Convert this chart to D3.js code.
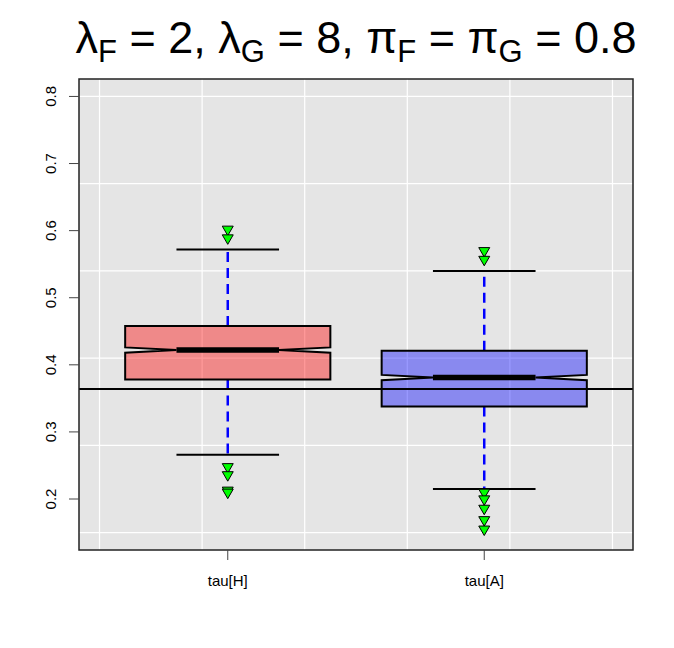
<!DOCTYPE html>
<html>
<head>
<meta charset="utf-8">
<script src="https://cdn.jsdelivr.net/npm/d3@7"></script>
<style>
  body { margin: 0; background: #fff; }
  text { font-family: "Liberation Sans", Arial, sans-serif; }
</style>
</head>
<body>
<div id="graph"></div>
<script>
var categories = ["tau[H]", "tau[A]"];
var positions = [1, 2];
var whiskerLow = [0.266, 0.215];
var q1 = [0.378, 0.338];
var median = [0.422, 0.381];
var q3 = [0.458, 0.421];
var whiskerHigh = [0.572, 0.540];
var notchLow = [0.418, 0.377];
var notchHigh = [0.426, 0.385];
var outliers = [
    [0.602, 0.589, 0.248, 0.236, 0.213, 0.210],
    [0.570, 0.557, 0.210, 0.200, 0.186, 0.169, 0.155]
];
var refLine = 0.364;
var yTicks = [0.2, 0.3, 0.4, 0.5, 0.6, 0.7, 0.8];
var yTickLabels = ["0.2", "0.3", "0.4", "0.5", "0.6", "0.7", "0.8"];
var gridX = [0.5, 0.9, 1.3, 1.7, 2.1, 2.5];
var gridY = [0.15, 0.28, 0.41, 0.54, 0.67, 0.80];
var fills = ["rgba(255,0,0,0.4)", "rgba(0,0,255,0.4)"];

function make_boxplot() {
    var w = 674, h = 648;
    var pl = 79, pr = 633, pt = 79, pb = 550;

    var x = d3.scaleLinear().domain([0.42, 2.58]).range([pl, pr]);
    var y = d3.scaleLinear().domain([0.124, 0.826]).range([pb, pt]);

    var svg = d3.select("#graph")
        .append("svg")
            .attr("width", w)
            .attr("height", h);

    svg.append("rect")
        .attr("width", w).attr("height", h).attr("fill", "#fff");

    svg.append("rect")
        .attr("x", pl).attr("y", pt)
        .attr("width", pr - pl).attr("height", pb - pt)
        .attr("fill", "#e5e5e5");

    // grid
    svg.selectAll("line.gx").data(gridX).enter().append("line")
        .attr("class", "gx")
        .attr("x1", function(d) { return x(d) }).attr("x2", function(d) { return x(d) })
        .attr("y1", pt).attr("y2", pb)
        .attr("stroke", "#fff").attr("stroke-width", 1.2);
    svg.selectAll("line.gy").data(gridY).enter().append("line")
        .attr("class", "gy")
        .attr("y1", function(d) { return y(d) }).attr("y2", function(d) { return y(d) })
        .attr("x1", pl).attr("x2", pr)
        .attr("stroke", "#fff").attr("stroke-width", 1.2);

    var boxW = 0.4, notchW = 0.2, capW = 0.2;
    var idx = d3.range(categories.length);

    var boxes = svg.selectAll("g.box").data(idx).enter().append("g").attr("class", "box");

    // whiskers
    boxes.append("line")
        .attr("x1", function(i) { return x(positions[i]) }).attr("x2", function(i) { return x(positions[i]) })
        .attr("y1", function(i) { return y(q3[i]) }).attr("y2", function(i) { return y(whiskerHigh[i]) })
        .attr("stroke", "#0000ff").attr("stroke-width", 2.5).attr("stroke-dasharray", "10,6");
    boxes.append("line")
        .attr("x1", function(i) { return x(positions[i]) }).attr("x2", function(i) { return x(positions[i]) })
        .attr("y1", function(i) { return y(q1[i]) }).attr("y2", function(i) { return y(whiskerLow[i]) })
        .attr("stroke", "#0000ff").attr("stroke-width", 2.5).attr("stroke-dasharray", "10,6");

    // staples
    [whiskerHigh, whiskerLow].forEach(function(arr) {
        boxes.append("line")
            .attr("x1", function(i) { return x(positions[i] - capW) })
            .attr("x2", function(i) { return x(positions[i] + capW) })
            .attr("y1", function(i) { return y(arr[i]) }).attr("y2", function(i) { return y(arr[i]) })
            .attr("stroke", "#000").attr("stroke-width", 2);
    });

    // notched box
    boxes.append("path")
        .attr("d", function(i) {
            var c = positions[i];
            var pts = [
                [c - boxW, q1[i]], [c - boxW, notchLow[i]], [c - notchW, median[i]],
                [c - boxW, notchHigh[i]], [c - boxW, q3[i]], [c + boxW, q3[i]],
                [c + boxW, notchHigh[i]], [c + notchW, median[i]], [c + boxW, notchLow[i]],
                [c + boxW, q1[i]]
            ];
            return "M" + pts.map(function(p) { return [x(p[0]), y(p[1])] }).join("L") + "Z";
        })
        .attr("fill", function(i) { return fills[i] })
        .attr("stroke", "#000").attr("stroke-width", 2).attr("stroke-linejoin", "miter");

    boxes.append("line")
        .attr("x1", function(i) { return x(positions[i] - notchW) })
        .attr("x2", function(i) { return x(positions[i] + notchW) })
        .attr("y1", function(i) { return y(median[i]) }).attr("y2", function(i) { return y(median[i]) })
        .attr("stroke", "#000").attr("stroke-width", 5.5);

    // outliers, pch 25
    var tri = d3.symbol().type(d3.symbolTriangle).size(52);
    boxes.selectAll("path.out")
        .data(function(i) { return outliers[i].map(function(v) { return [positions[i], v] }) })
        .enter().append("path")
            .attr("class", "out")
            .attr("d", tri)
            .attr("transform", function(d) { return "translate(" + [x(d[0]), y(d[1])] + ") rotate(180)" })
            .attr("fill", "#00ff00").attr("stroke", "#000").attr("stroke-width", 1);

    // reference line
    svg.append("line")
        .attr("x1", pl).attr("x2", pr)
        .attr("y1", y(refLine)).attr("y2", y(refLine))
        .attr("stroke", "#000").attr("stroke-width", 2);

    // frame
    svg.append("rect")
        .attr("x", pl).attr("y", pt)
        .attr("width", pr - pl).attr("height", pb - pt)
        .attr("fill", "none").attr("stroke", "#222").attr("stroke-width", 1.5);

    // y axis
    svg.selectAll("line.yt").data(yTicks).enter().append("line")
        .attr("class", "yt")
        .attr("x1", pl - 10).attr("x2", pl)
        .attr("y1", function(d) { return y(d) }).attr("y2", function(d) { return y(d) })
        .attr("stroke", "#444").attr("stroke-width", 1);
    svg.selectAll("text.yl").data(yTicks).enter().append("text")
        .attr("class", "yl")
        .attr("transform", function(d) { return "translate(" + [55.5, y(d)] + ") rotate(-90)" })
        .attr("text-anchor", "middle")
        .attr("font-size", 15)
        .text(function(d, i) { return yTickLabels[i] });

    // x axis
    svg.selectAll("line.xt").data(idx).enter().append("line")
        .attr("class", "xt")
        .attr("x1", function(i) { return x(positions[i]) }).attr("x2", function(i) { return x(positions[i]) })
        .attr("y1", pb).attr("y2", pb + 10)
        .attr("stroke", "#444").attr("stroke-width", 1);
    svg.selectAll("text.xl").data(idx).enter().append("text")
        .attr("class", "xl")
        .attr("x", function(i) { return x(positions[i]) })
        .attr("y", 586)
        .attr("text-anchor", "middle")
        .attr("font-size", 15)
        .text(function(i) { return categories[i] });

    // title
    var title = svg.append("text")
        .attr("x", (pl + pr) / 2)
        .attr("y", 53)
        .attr("text-anchor", "middle")
        .attr("font-size", 45);
    var parts = [["\u03bb", ""], ["F", "sub"], [" = 2, \u03bb", ""], ["G", "sub"], [" = 8, \u03c0", ""],
                 ["F", "sub"], [" = \u03c0", ""], ["G", "sub"], [" = 0.8", ""]];
    parts.forEach(function(p, k) {
        var t = title.append("tspan").text(p[0]);
        if (p[1] == "sub") {
            t.attr("font-size", 31).attr("dy", 9);
        } else if (k > 0) {
            t.attr("dy", -9);
        }
    });
}

make_boxplot();
</script>
</body>
</html>
